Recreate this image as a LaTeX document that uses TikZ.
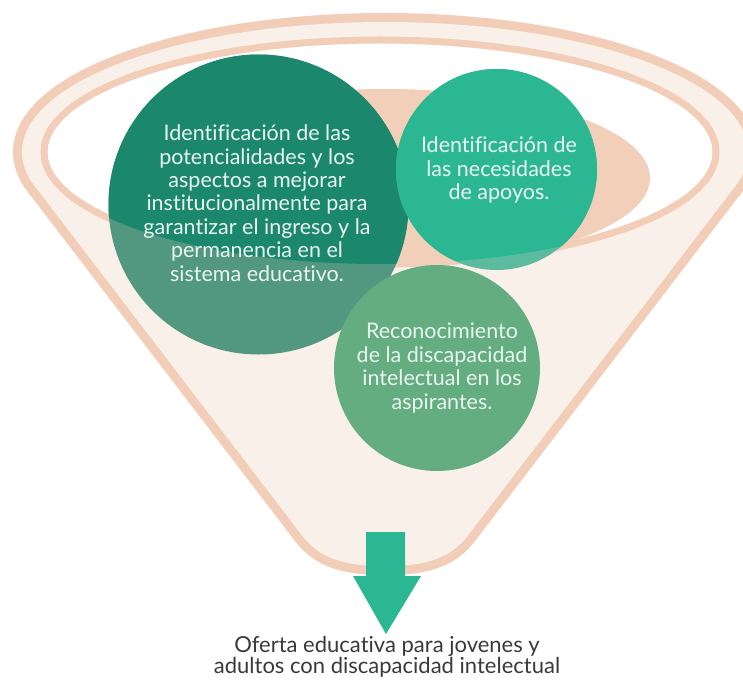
\documentclass[tikz,border=0pt]{standalone}
\usepackage{fontspec}
\setmainfont{Lato}[RawFeature={-liga}]
\definecolor{peach}{HTML}{F2CEB8}
\definecolor{cream}{HTML}{FAF0EA}
\definecolor{salmon}{HTML}{F2CFB9}
\definecolor{bigdark}{HTML}{1B876C}
\definecolor{biglight}{HTML}{529880}
\definecolor{tealc}{HTML}{2CB794}
\definecolor{teallight}{HTML}{5CBA9E}
\definecolor{leaf}{HTML}{64AD80}
\definecolor{ink}{HTML}{3A3A3A}
\definecolor{txtc}{HTML}{EAF5F1}
\begin{document}
\begin{tikzpicture}[x=1pt,y=-1pt,
  circtext/.style={text=txtc,align=center,font=\fontsize{21.5}{23.4}\selectfont},
  disc/.style={circle,inner sep=0pt,draw=none},
  rimline/.style={peach,line width=18pt,line join=round},
]
\useasboundingbox (0,0) rectangle (743,679);
\fill[white] (0,0) rectangle (743,679);
% funnel body (double-width stroke under fill gives the outline of the union)
\draw[rimline] (385,152) ellipse [x radius=363, y radius=130];
\draw[rimline] (34.9,186.3) -- (304,538) .. controls (324,562) and (352,566) .. (385,566)
  .. controls (418,566) and (446,562) .. (466,538) -- (735.1,186.3);
\fill[cream] (385,152) ellipse [x radius=363, y radius=130];
\fill[cream] (34.9,186.3) -- (304,538) .. controls (324,562) and (352,566) .. (385,566)
  .. controls (418,566) and (446,562) .. (466,538) -- (735.1,186.3) -- cycle;
% inner rim
\coordinate (ec) at (380,152);
\filldraw[fill=white,draw=peach,line width=7pt] (ec) ellipse [x radius=336, y radius=112];
\begin{scope}
  \clip (ec) ellipse [x radius=336, y radius=112];
  \fill[salmon] (386,178) ellipse [x radius=264, y radius=89];
\end{scope}
% circles
\node[disc,fill=biglight,minimum size=300pt] (c1) at (258.5,204.5) {};
\begin{scope}
  \clip (ec) ellipse [x radius=336, y radius=112];
  \fill[bigdark] (c1.center) circle [radius=150];
\end{scope}
\node[disc,fill=teallight,minimum size=201pt] (c2) at (496.5,169.5) {};
\begin{scope}
  \clip (ec) ellipse [x radius=336, y radius=112];
  \fill[tealc] (c2.center) circle [radius=100.5];
\end{scope}
\node[disc,fill=leaf,minimum size=206pt] (c3) at (437,368) {};
% texts
\node[circtext] (t1) at (257,203) {Identificación de las\\potencialidades y los\\aspectos a mejorar\\institucionalmente para\\garantizar el ingreso y la\\permanencia en el\\sistema educativo.};
\node[circtext] (t2) at (499,170) {Identificación de\\las necesidades\\de apoyos.};
\node[circtext] (t3) at (442,368) {Reconocimiento\\de la discapacidad\\intelectual en los\\aspirantes.};
% arrow
\fill[tealc] (366,532) -- (405,532) -- (405,576) -- (421,576) -- (386,634) -- (353,576) -- (366,576) -- cycle;
\node[text=ink,align=center,font=\fontsize{22}{18}\selectfont] (out) at (387,657) {Oferta educativa para jovenes y\\adultos con discapacidad intelectual};
\end{tikzpicture}
\end{document}
